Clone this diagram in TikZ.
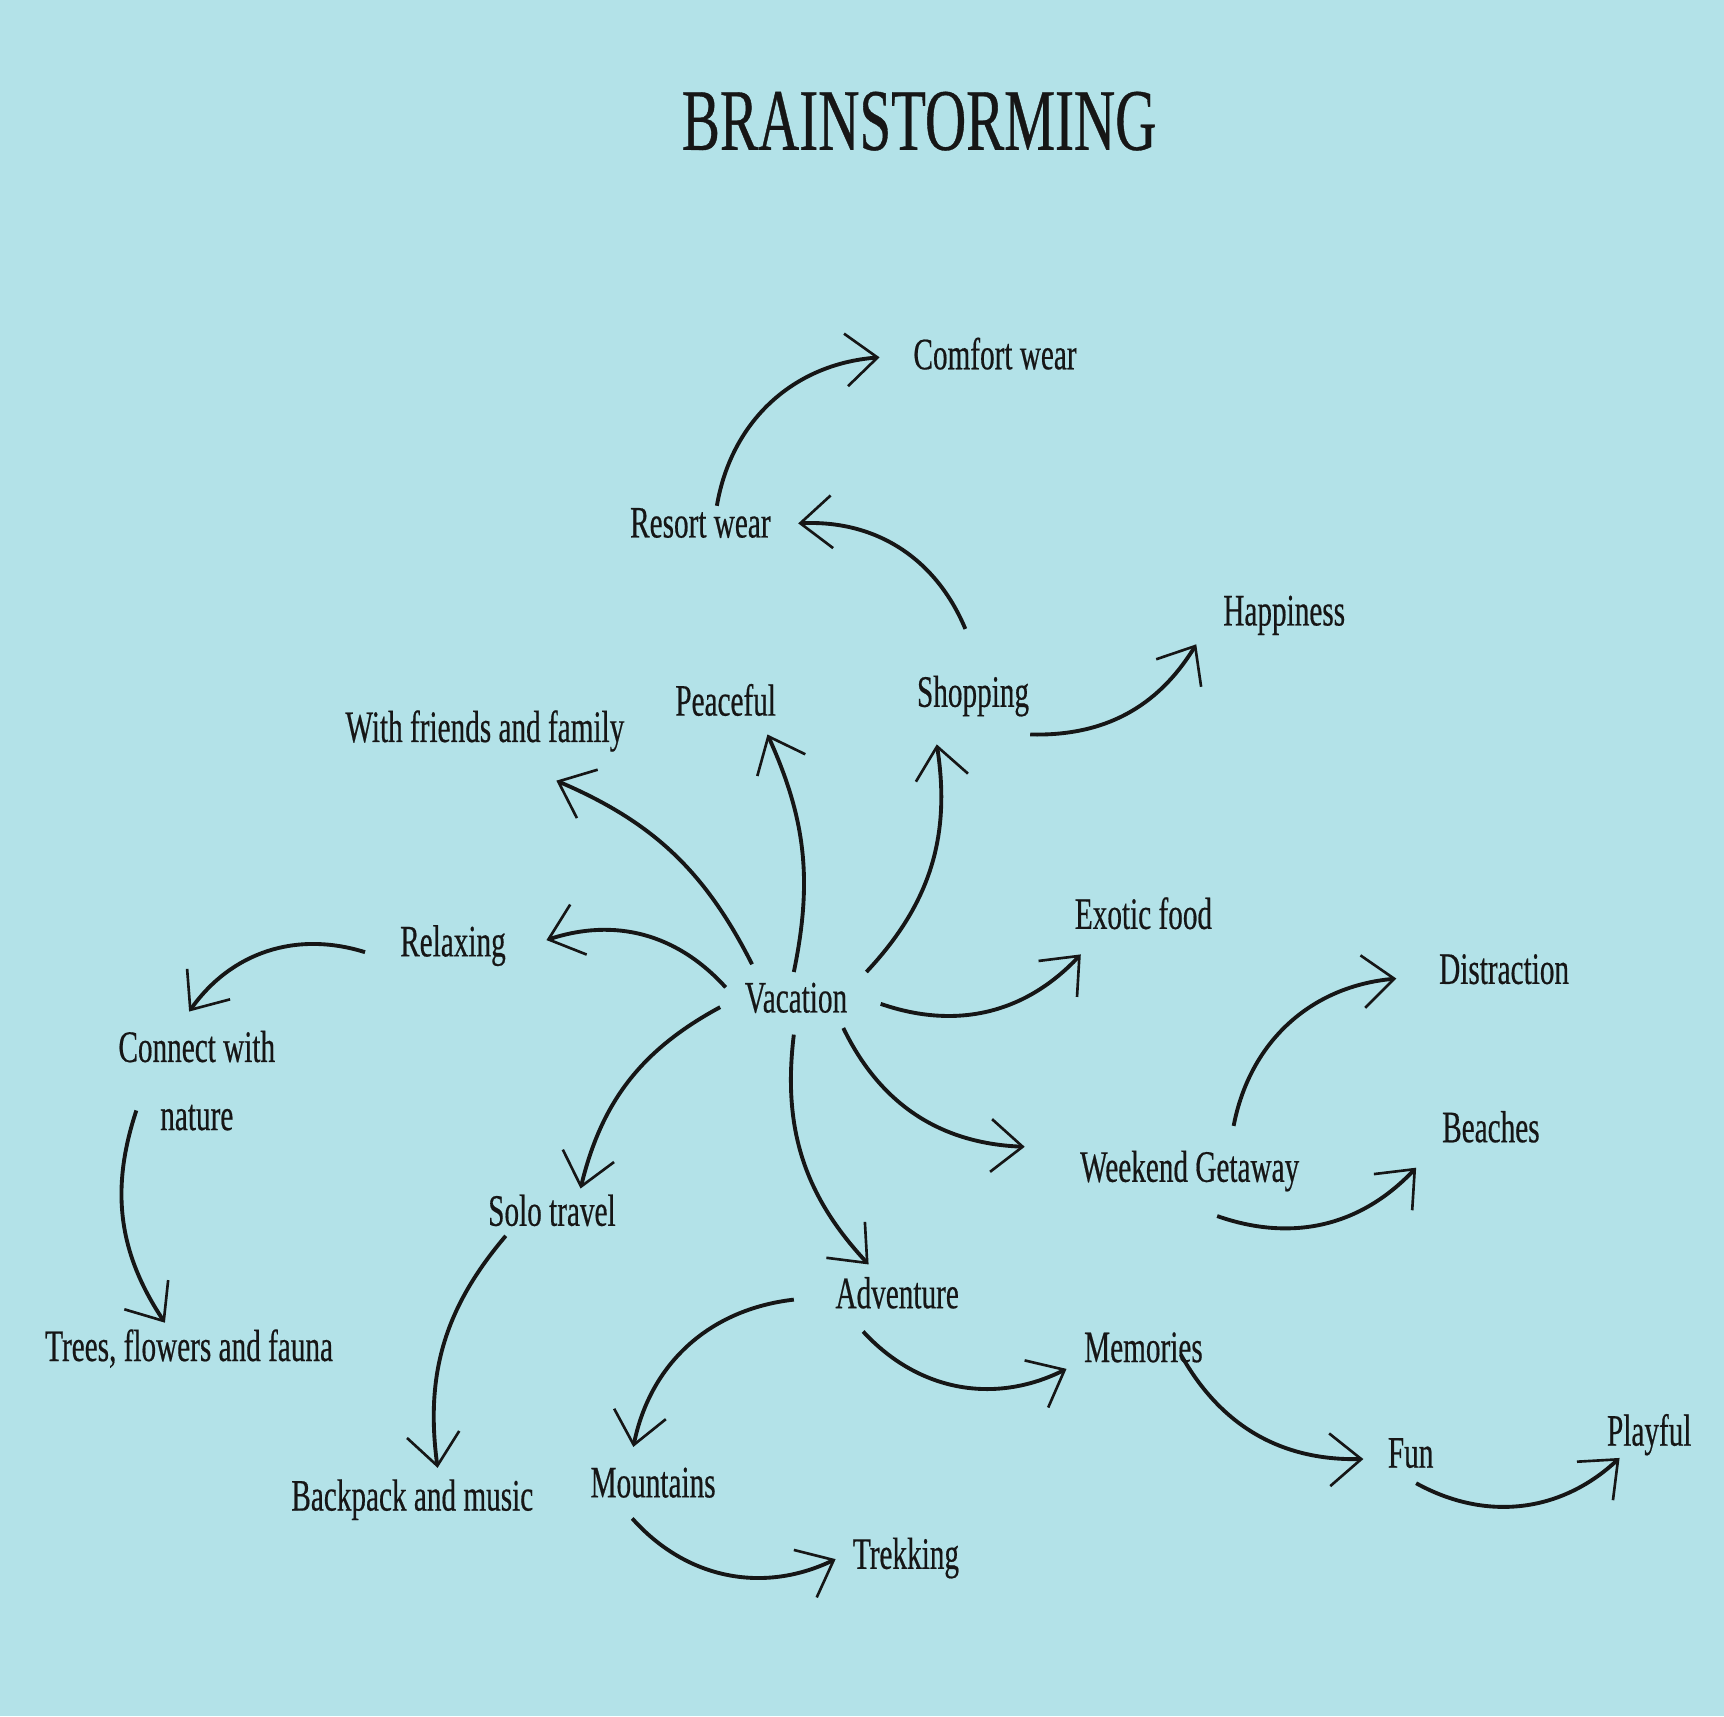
\documentclass[tikz,border=0pt]{standalone}
\usepackage{fontspec}
\setmainfont{Liberation Serif}[FakeStretch=0.65,FakeBold=0.4]
\usetikzlibrary{arrows.meta,calc}
\definecolor{bg}{HTML}{B3E2E8}
\definecolor{ink}{HTML}{161616}
\begin{document}
\begin{tikzpicture}[x=0.010995cm,y=-0.010995cm,
  lbl/.style={font=\fontsize{12.8}{15}\selectfont, text=ink, inner sep=0pt, text height=2.0ex, text depth=0.25ex},
  ttl/.style={font=\fontsize{25}{30}\selectfont, text=ink, inner sep=0pt, yshift=-1pt},
  arr/.style={draw=ink, line width=1.1pt, -{Straight Barb[length=9pt,width=15pt,line width=0.75pt]}}]
\fill[bg] (0,0) rectangle (1568,1561);
\useasboundingbox (0,0) rectangle (1568,1561);
\node[ttl] (title) at (836,107) {BRAINSTORMING};
\node[lbl] (cw) at (905,323) {Comfort wear};
\node[lbl] (rw) at (637,476) {Resort wear};
\node[lbl] (hap) at (1168,556) {Happiness};
\node[lbl] (shop) at (885,630) {Shopping};
\node[lbl] (peace) at (660,638) {Peaceful};
\node[lbl] (wff) at (441,662) {With friends and family};
\node[lbl] (exo) at (1040,832) {Exotic food};
\node[lbl] (dis) at (1368,882) {Distraction};
\node[lbl] (rel) at (412,857) {Relaxing};
\node[lbl] (vac) at (724,908) {Vacation};
\node[lbl] (conn) at (179,953) {Connect with};
\node[lbl] (nat) at (179,1015) {nature};
\node[lbl] (bea) at (1356,1026) {Beaches};
\node[lbl] (wg) at (1082,1062) {Weekend Getaway};
\node[lbl] (solo) at (502,1102) {Solo travel};
\node[lbl] (adv) at (816,1177) {Adventure};
\node[lbl] (trees) at (172,1225) {Trees, flowers and fauna};
\node[lbl] (mem) at (1040,1226) {Memories};
\node[lbl] (fun) at (1283,1322) {Fun};
\node[lbl] (play) at (1500,1302) {Playful};
\node[lbl] (back) at (375,1361) {Backpack and music};
\node[lbl] (mount) at (594,1349) {Mountains};
\node[lbl] (trek) at (824,1414) {Trekking};

\draw[arr] ($(rw)+(15,-16)$) to[bend left=38] ($(cw)+(-105,2)$);
\draw[arr] ($(shop)+(-7,-58)$) to[bend right=35] ($(rw)+(89,0)$);
\draw[arr] ($(shop)+(52,38)$) to[bend right=30] ($(hap)+(-80,30)$);
\draw[arr] ($(vac)+(64,-24)$) to[bend right=26] ($(shop)+(-33,47)$);
\draw[arr] ($(vac)+(-2,-24)$) to[bend right=18] ($(peace)+(38,30)$);
\draw[arr] ($(vac)+(-40,-31)$) to[bend right=20] ($(wff)+(65,48)$);
\draw[arr] ($(vac)+(-64,-10)$) to[bend right=33] ($(rel)+(85,-2)$);
\draw[arr] ($(rel)+(-80,9)$) to[bend right=36] ($(conn)+(-7,-33)$);
\draw[arr] ($(nat)+(-55,-5)$) to[bend right=26] ($(trees)+(-22,-22)$);
\draw[arr] ($(vac)+(-69,8)$) to[bend right=24] ($(solo)+(26,-21)$);
\draw[arr] ($(solo)+(-42,22)$) to[bend right=24] ($(back)+(23,-26)$);
\draw[arr] ($(vac)+(77,5)$) to[bend right=33] ($(exo)+(-57,36)$);
\draw[arr] ($(vac)+(43,27)$) to[bend right=31] ($(wg)+(-150,-19)$);
\draw[arr] ($(vac)+(-2,33)$) to[bend right=25] ($(adv)+(-26,-27)$);
\draw[arr] ($(wg)+(40,-38)$) to[bend left=37] ($(dis)+(-98,8)$);
\draw[arr] ($(wg)+(25,44)$) to[bend right=33] ($(bea)+(-68,36)$);
\draw[arr] ($(adv)+(-94,5)$) to[bend right=36] ($(mount)+(-18,-33)$);
\draw[arr] ($(adv)+(-31,34)$) to[bend right=37] ($(mem)+(-70,19)$);
\draw[arr] ($(mem)+(34,6)$) to[bend right=31] ($(fun)+(-43,5)$);
\draw[arr] ($(mount)+(-19,32)$) to[bend right=37] ($(trek)+(-64,4)$);
\draw[arr] ($(fun)+(5,27)$) to[bend right=36] ($(play)+(-27,24)$);
\end{tikzpicture}
\end{document}
